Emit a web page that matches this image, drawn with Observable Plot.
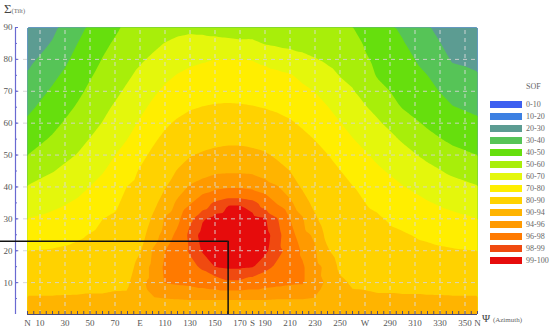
<!DOCTYPE html>
<html><head><meta charset="utf-8">
<script src="https://cdn.jsdelivr.net/npm/d3@7"></script>
<script src="https://cdn.jsdelivr.net/npm/@observablehq/plot@0.6"></script>
<style>
body{margin:0;background:#fff;}
#wrap{position:relative;width:550px;height:330px;overflow:hidden;font-family:"Liberation Serif","Times New Roman",serif;background:#fff;}
#wrap svg{position:absolute;left:0;top:0;}
.lab{position:absolute;color:#444;white-space:nowrap;}
#legend{position:absolute;left:490px;top:98px;}
.row{display:flex;align-items:center;height:12.07px;}
.sw{width:32px;height:7px;margin-right:4px;}
.lt{font-size:8px;color:#666;}
</style></head><body><div id="wrap"></div>
<script>
// ---- data ----
const azimuths = [0,20,40,60,80,90,100,110,120,130,140,150,160,170,180,190,200,210,220,230,240,250,260,280,300,320,340,360];
const tilts = [0,5,10,15,20,25,30,35,40,45,50,55,60,65,70,75,80,85,90];
const sofT00 = [92,92,92,92,92,92,92,92,92,92,92,92,92,92,92,92,92,92,92,92,92,92,92,92,92,92,92,92];
const sofT05 = [90.5,90.5,90.6,90.6,90.7,93.0,93.8,94.0,94.1,94.2,94.2,94.2,94.2,94.2,94.2,94.2,94.1,94.1,94.1,93.9,93.1,92.3,90.8,90.6,90.6,90.6,90.5,90.5];
const sofT10 = [87.6,87.7,88.1,88.7,89.3,93.4,94.8,96.1,96.3,96.5,96.9,97.3,97.8,97.8,97.4,96.9,96.6,96.3,96.2,94.7,93.7,90.8,89.5,88.9,88.5,88.1,87.7,87.6];
const sofT15 = [83.8,84.1,85.1,86.5,87.8,92.0,94.8,96.3,97.0,97.5,98.3,99.03,99.18,99.17,99.07,98.5,97.7,97.0,96.2,95.0,93.2,89.1,88.0,86.9,85.9,85.0,84.2,83.8];
const sofT20 = [80.0,80.6,82.0,84.3,86.3,89.6,94.2,96.0,97.1,98.2,99.1,99.5,99.7,99.6,99.5,99.2,98.4,97.5,95.7,94.4,90.5,87.6,86.5,85.0,83.3,81.9,80.7,80.0];
const sofT25 = [75.1,76.4,78.7,82.1,84.7,87.8,92.6,95.1,96.4,98.5,99.3,99.7,99.8,99.9,99.7,99.3,98.6,96.7,95.0,93.5,88.6,86.2,84.9,83.0,80.8,78.4,76.5,75.1];
const sofT30 = [70.2,72.1,74.9,79.9,83.2,86.1,90.6,94.3,95.5,97.7,98.9,99.3,99.4,99.5,99.3,99.1,98.1,96.0,94.3,90.8,86.9,84.7,83.4,81.0,77.5,74.5,72.2,70.2];
const sofT35 = [65.3,67.9,71.1,76.3,81.7,84.3,88.4,92.3,94.5,95.8,97.2,98.3,98.9,98.9,98.5,97.4,95.8,94.6,92.2,88.5,85.3,83.2,81.8,78.3,73.9,70.6,67.7,65.3];
const sofT40 = [60.5,63.8,67.5,72.8,80.2,82.5,86.0,89.7,92.8,94.3,95.0,95.5,95.8,95.8,95.5,95.0,94.2,92.5,89.4,86.4,83.6,81.7,80.3,74.8,70.4,66.6,63.2,60.5];
const sofT45 = [55.3,59.6,63.9,69.4,76.9,80.7,83.7,87.1,90.4,92.1,93.1,93.6,93.7,93.7,93.6,93.0,91.8,90.0,86.9,84.2,81.9,80.2,77.2,71.4,66.7,62.5,58.3,55.3];
const sofT50 = [50.0,55.3,60.4,66.4,73.4,77.9,81.4,84.4,87.4,89.7,90.7,91.3,91.6,91.6,91.3,90.7,89.1,87.0,84.3,82.0,80.2,77.1,73.8,68.0,63.0,57.9,52.8,50.0];
const sofT55 = [45.8,51.1,57.2,63.3,70.0,74.5,78.6,81.8,84.3,86.2,87.5,88.5,88.9,88.9,88.4,87.3,85.7,84.0,81.8,79.8,77.0,73.7,70.3,64.7,59.0,52.6,48.1,45.8];
const sofT60 = [41.7,47.6,54.1,60.3,67.1,71.0,75.2,78.8,81.1,82.8,83.8,84.6,84.9,84.8,84.4,83.5,82.3,80.9,79.0,76.5,73.7,70.3,67.1,61.3,54.0,48.6,44.2,41.7];
const sofT65 = [37.9,44.5,50.9,57.8,64.3,67.9,71.7,75.2,77.7,79.3,80.2,80.8,81.0,80.8,80.4,79.7,78.8,77.6,75.5,73.2,70.3,66.7,63.9,57.3,49.6,45.7,40.4,37.9];
const sofT70 = [34.3,41.3,48.1,55.3,61.4,64.8,68.3,71.7,74.0,75.7,76.6,77.1,77.3,77.2,76.9,76.3,75.4,74.1,72.1,69.8,66.4,63.2,60.6,52.7,47.3,42.9,36.5,34.3];
const sofT75 = [30.7,37.9,45.4,52.8,58.8,61.8,64.8,68.0,70.4,72.1,73.1,73.6,73.7,73.7,73.4,72.8,71.9,70.7,67.8,65.1,62.4,59.7,57.9,49.3,45.1,40.0,32.7,30.7];
const sofT80 = [27.7,34.3,42.7,50.3,56.4,58.8,61.4,64.2,66.3,68.0,69.1,70.0,70.1,70.1,69.7,68.2,66.1,64.1,62.2,60.5,58.6,56.8,55.4,47.5,42.9,37.0,29.2,27.7];
const sofT85 = [24.9,30.7,40.0,48.1,53.9,56.0,57.9,60.3,62.1,63.0,63.0,62.9,62.4,61.7,61.9,59.5,58.5,57.9,57.2,56.2,55.0,53.9,52.8,45.8,40.7,34.0,26.6,24.9];
const sofT90 = [22.0,28.0,37.0,46.0,51.5,53.0,54.5,56.0,57.3,58.0,57.5,56.5,55.5,55.0,54.5,54.0,53.5,53.0,52.5,52.0,51.5,51.0,50.2,44.0,38.5,31.0,24.0,22.0];

const thresholds = [0,10,20,30,40,50,60,70,80,90,94,96,98,99];
const bandLabels = ["0-10","10-20","20-30","30-40","40-50","50-60","60-70","70-80","80-90","90-94","94-96","96-98","98-99","99-100"];
const bandColors = ["#3d5ff0","#3c80e2","#5c9c92","#56c457","#66df0d","#a8ee0a","#e4f70c","#ffee00","#ffd200","#ffb400","#ff9a00","#ff7a00","#f04a10","#e60c0c"];

const azTicks = [0,10,30,50,70,90,110,130,150,170,180,190,210,230,250,270,290,310,330,350,360];
const azTickLabels = ["N","10","30","50","70","E","110","130","150","170","S","190","210","230","250","W","290","310","330","350","N"];
const azMinorTicks = d3.range(0, 361, 5);
const tiltTicks = [10,20,30,40,50,60,70,80,90];
const tiltMinorTicks = d3.range(5, 90, 5);
const gridAz = [10,30,50,70,90,110,130,150,170,190,210,230,250,270,290,310,330,350];
const gridTilt = [10,20,30,40,50,60,70,80];
const optAz = 160.5, optTilt = 23;

// ---- build ----
const sofRows = [sofT00,sofT05,sofT10,sofT15,sofT20,sofT25,sofT30,sofT35,sofT40,sofT45,sofT50,sofT55,sofT60,sofT65,sofT70,sofT75,sofT80,sofT85,sofT90];
const cells = tilts.flatMap((t, i) => azimuths.map((a, j) => ({az: a, tilt: t, sof: sofRows[i][j]})));

const W = 550, H = 330, mL = 27, mR = 73, mT = 27, mB = 16;
const pxPerAz = (W - mL - mR) / 360;
const axisGap = 12;
const azAtAxis = -axisGap / pxPerAz;
const azAtEdge = -mL / pxPerAz;
const axisBlue = "#6a6ad2", axisDark = "#4a4a7a", textGray = "#555";

const chart = Plot.plot({
  width: W, height: H,
  marginLeft: mL, marginRight: mR, marginTop: mT, marginBottom: mB,
  x: {domain: [0, 360], axis: null, label: null},
  y: {domain: [0, 90], axis: null, label: null},
  color: {type: "ordinal", domain: thresholds, range: bandColors},
  style: {fontFamily: "'Liberation Serif', 'Times New Roman', serif", fontSize: "9px", background: "transparent", overflow: "visible"},
  marks: [
    Plot.contour(cells, {x: "az", y: "tilt", fill: "sof", thresholds, interpolate: "barycentric", stroke: "none"}),
    Plot.ruleX(gridAz, {y1: 0, y2: 90, stroke: "#dcdcdc", strokeOpacity: 0.9, strokeDasharray: "4,4"}),
    Plot.ruleY(gridTilt, {x1: azAtAxis, x2: 360, stroke: "#d4d4d4", strokeOpacity: 0.9, strokeDasharray: "4,4"}),
    // left axis
    Plot.ruleX([0], {y1: 0, y2: 90, dx: -axisGap, stroke: axisBlue, strokeWidth: 1.2}),
    Plot.axisY({ticks: tiltMinorTicks, label: null, tickSize: 2, dx: -axisGap + 2, stroke: axisBlue, tickFormat: () => ""}),
    Plot.axisY({ticks: tiltTicks, label: null, tickSize: 3, tickPadding: 3, dx: -axisGap + 3, stroke: axisBlue, fill: textGray}),
    // bottom axis
    Plot.axisX({ticks: azMinorTicks, label: null, tickSize: 3, dy: -3, stroke: axisDark, tickFormat: () => ""}),
    Plot.axisX({ticks: azTicks, label: null, tickSize: 0, tickPadding: 5, fill: textGray, tickFormat: (d) => azTickLabels[azTicks.indexOf(d)]}),
    Plot.ruleY([0], {stroke: axisDark, strokeWidth: 1.2}),
    // optimum crosshair
    Plot.ruleY([optTilt], {x1: azAtEdge, x2: optAz, stroke: "#111", strokeWidth: 1.5}),
    Plot.ruleX([optAz], {y1: 0, y2: optTilt, stroke: "#111", strokeWidth: 1.5})
  ]
});

const wrap = document.getElementById("wrap");
wrap.appendChild(chart);

// axis titles
const sig = document.createElement("div");
sig.className = "lab";
sig.style.cssText = "left:4px;top:1px;font-size:13px;color:#444;";
sig.innerHTML = "Σ<span style='font-size:6.5px;color:#666'>(Tilt)</span>";
wrap.appendChild(sig);

const psi = document.createElement("div");
psi.className = "lab";
psi.style.cssText = "left:482px;top:312px;font-size:11px;color:#444;";
psi.innerHTML = "Ψ <span style='font-size:7px;color:#666'>(Azimuth)</span>";
wrap.appendChild(psi);

// legend
const sofTitle = document.createElement("div");
sofTitle.className = "lab";
sofTitle.style.cssText = "left:526px;top:82px;font-size:8px;color:#666;";
sofTitle.textContent = "SOF";
wrap.appendChild(sofTitle);

const legend = document.createElement("div");
legend.id = "legend";
bandLabels.forEach((lab, i) => {
  const row = document.createElement("div");
  row.className = "row";
  const sw = document.createElement("div");
  sw.className = "sw";
  sw.style.background = bandColors[i];
  const t = document.createElement("span");
  t.className = "lt";
  t.textContent = lab;
  row.appendChild(sw);
  row.appendChild(t);
  legend.appendChild(row);
});
wrap.appendChild(legend);
</script></body></html>
